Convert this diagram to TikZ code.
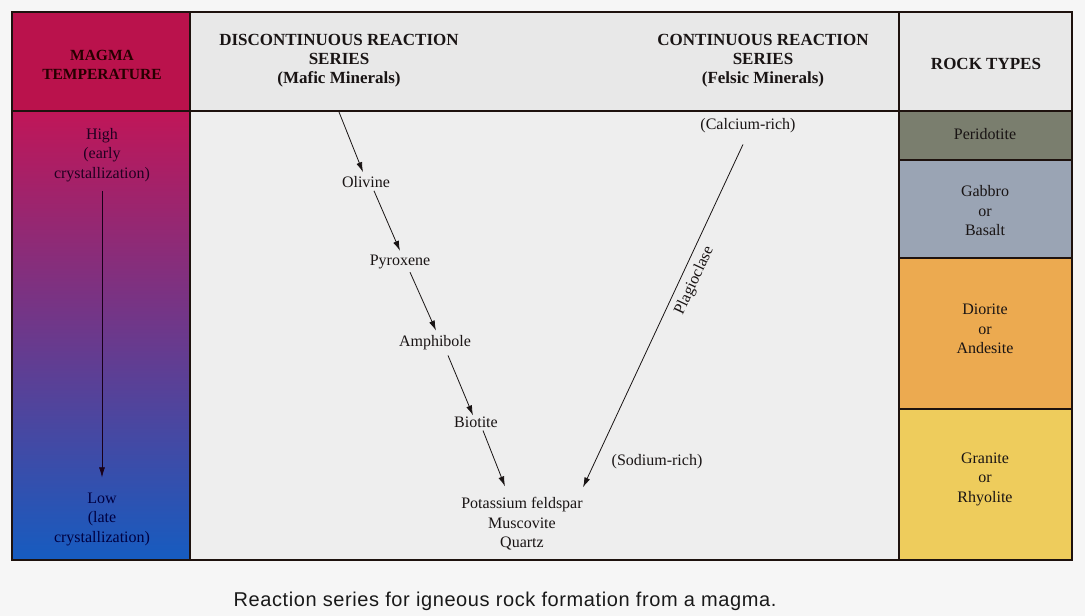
\documentclass[tikz,border=0pt]{standalone}
\usepackage{fontspec}
\setmainfont{Liberation Serif}
\newfontfamily\capfont[LetterSpace=3]{Liberation Sans}
\usetikzlibrary{arrows.meta,calc}
\definecolor{pagebg}{RGB}{246,246,246}
\definecolor{headbg}{RGB}{232,232,232}
\definecolor{bodybg}{RGB}{238,238,238}
\definecolor{magmahead}{RGB}{186,18,76}
\definecolor{mtop}{RGB}{192,22,88}
\definecolor{mmid}{RGB}{136,48,146}
\definecolor{mbot}{RGB}{22,92,192}
\definecolor{perid}{RGB}{122,126,110}
\definecolor{gabbro}{RGB}{154,164,180}
\definecolor{diorite}{RGB}{236,170,80}
\definecolor{granite}{RGB}{238,204,92}
\definecolor{ink}{RGB}{25,20,20}
\definecolor{frame}{RGB}{30,18,14}
\begin{document}
\begin{tikzpicture}[x=1pt,y=-1pt,
  lbl/.style={font=\fontsize{16}{19.5}\selectfont, text=ink, align=center, inner sep=1pt},
  hdr/.style={font=\fontsize{17}{19}\selectfont\bfseries, text=ink, align=center, inner sep=1pt},
  arr/.style={draw=ink, line width=0.8pt, -{Latex[length=10pt,width=6pt]}},
  grid/.style={draw=frame, line width=1.2pt}]
\useasboundingbox (0,0) rectangle (1085,616);
\fill[pagebg] (0,0) rectangle (1085,616);
% backgrounds
\fill[headbg] (190,12) rectangle (1072,111);
\fill[bodybg] (190,111) rectangle (899,560);
\fill[magmahead] (12,12) rectangle (190,111);
\shade[top color=mtop, middle color=mmid, bottom color=mbot] (12,111) rectangle (190,560);
\fill[perid] (899,111) rectangle (1072,160);
\fill[gabbro] (899,160) rectangle (1072,258);
\fill[diorite] (899,258) rectangle (1072,409);
\fill[granite] (899,409) rectangle (1072,560);
% grid lines
\draw[grid] (190,12) -- (190,560);
\draw[grid] (899,12) -- (899,560);
\draw[grid] (12,111) -- (1072,111);
\draw[grid] (899,160) -- (1072,160);
\draw[grid] (899,258) -- (1072,258);
\draw[grid] (899,409) -- (1072,409);
\draw[draw=frame, line width=2.6pt] (12,12) rectangle (1072,560);
% headers
\node[hdr, font=\fontsize{15.5}{19}\selectfont\bfseries, text=black!85!red] (hmag) at (102,65) {MAGMA\\TEMPERATURE};
\node[hdr] (hdis) at (339,61) {DISCONTINUOUS REACTION\\SERIES\\(Mafic Minerals)};
\node[hdr] (hcon) at (763,61) {CONTINUOUS REACTION\\SERIES\\(Felsic Minerals)};
\node[hdr] (hrock) at (986,64) {ROCK TYPES};
% magma column
\node[lbl, text=black!75!violet] (high) at (102,155) {High\\(early\\crystallization)};
\node[lbl, text=black!75!blue] (low) at (102,519) {Low\\(late\\crystallization)};
\draw[arr, draw=black!80!violet, line width=0.6pt] ($(high.south)+(0,8)$) -- ($(low.north)+(0,-14)$);
% discontinuous series
\node[lbl] (oliv) at (366,182) {Olivine};
\node[lbl] (pyro) at (400,262) {Pyroxene};
\node[lbl] (amph) at (435,343) {Amphibole};
\node[lbl] (biot) at (476,422) {Biotite};
\node[lbl] (kfq) at (522,524) {Potassium feldspar\\Muscovite\\Quartz};
\coordinate (dstart) at (339,112);
\draw[arr] (dstart) -- ($(oliv.north)+(-3,-3)$);
\draw[arr] ($(oliv.south)+(8,2)$) -- ($(pyro.north)+(0,-3)$);
\draw[arr] ($(pyro.south)+(10,2)$) -- ($(amph.north)+(1,-4)$);
\draw[arr] ($(amph.south)+(13,4)$) -- ($(biot.north)+(-3,0)$);
\draw[arr] ($(biot.south)+(7,2)$) -- ($(kfq.north)+(-17,-10)$);
% continuous series
\node[lbl] (ca) at (748,126) {(Calcium-rich)};
\node[lbl] (na) at (657,462) {(Sodium-rich)};
\draw[arr] ($(ca.south)+(-5,10)$) -- node[lbl, pos=0.38, rotate=65, anchor=north, inner sep=6pt] (plag) {Plagioclase} ($(kfq.north)+(61,-9)$);
% rock types
\node[lbl] (perid) at (985,134) {Peridotite};
\node[lbl] (gab) at (985,211) {Gabbro\\or\\Basalt};
\node[lbl] (dio) at (985,329) {Diorite\\or\\Andesite};
\node[lbl] (gra) at (985,479) {Granite\\or\\Rhyolite};
% caption
\node[font=\capfont\fontsize{20}{24}\selectfont, text=black!90, inner sep=0pt] (cap) at (505,601) {Reaction series for igneous rock formation from a magma.};
\end{tikzpicture}
\end{document}
